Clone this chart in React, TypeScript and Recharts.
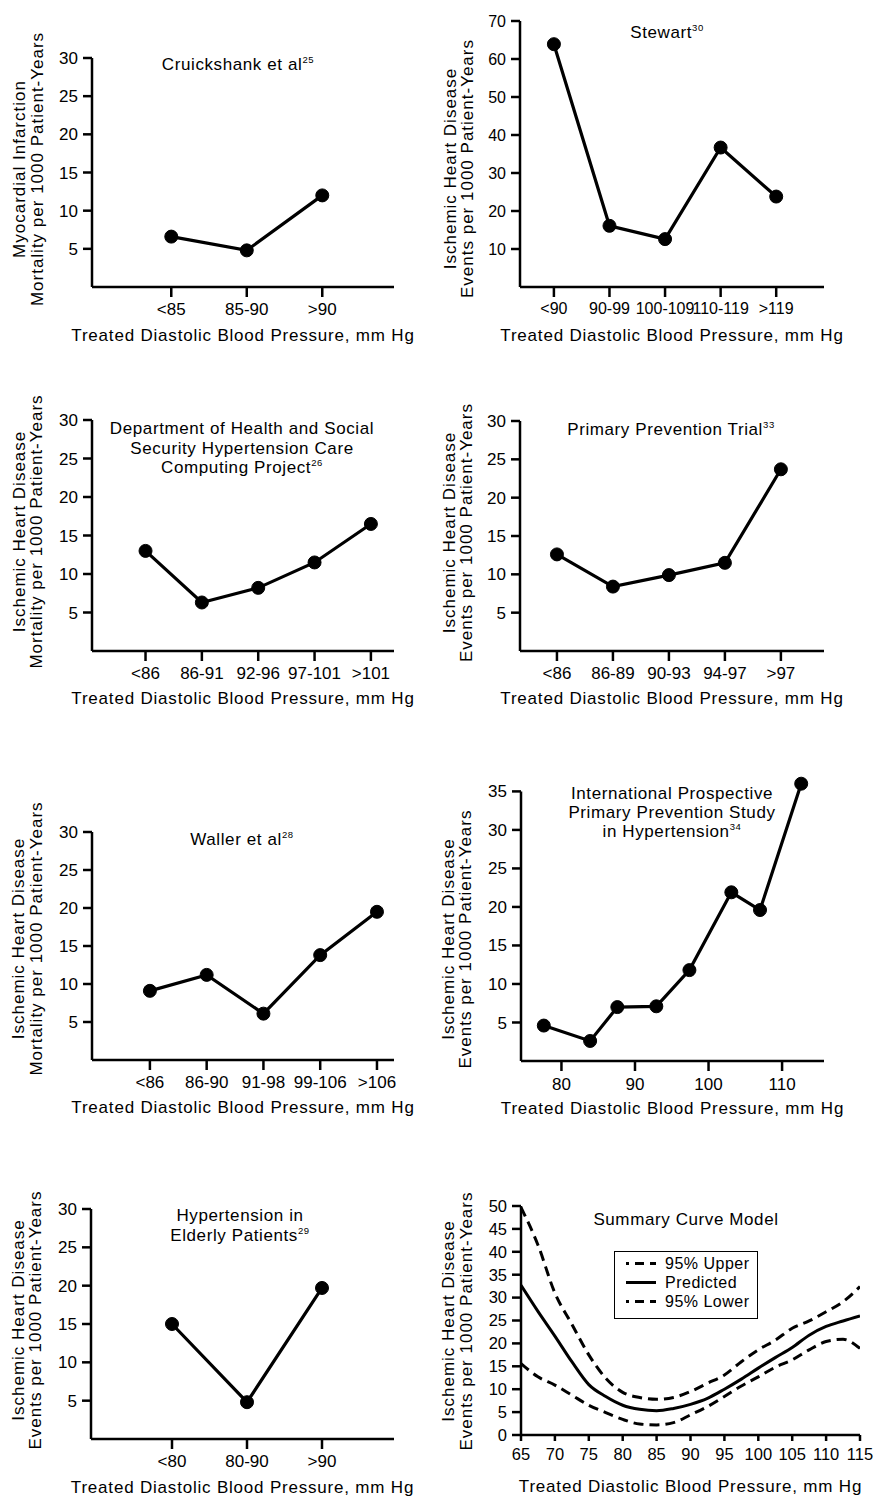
import React from "react";
import { LineChart, Line, XAxis, YAxis, Legend, ReferenceLine } from "recharts";

const FONT = "'Liberation Sans', Arial, Helvetica, sans-serif";

// Cruickshank et al
const cruickCats = ["<85", "85-90", ">90"];
const cruickVals = [6.6, 4.8, 12.0];

// Stewart
const stewartCats = ["<90", "90-99", "100-109", "110-119", ">119"];
const stewartVals = [63.9, 16.1, 12.6, 36.7, 23.8];

// Department of Health and Social Security
const dhssCats = ["<86", "86-91", "92-96", "97-101", ">101"];
const dhssVals = [13.0, 6.3, 8.2, 11.5, 16.5];

// Primary Prevention Trial
const pptCats = ["<86", "86-89", "90-93", "94-97", ">97"];
const pptVals = [12.6, 8.4, 9.9, 11.5, 23.7];

// Waller et al
const wallerCats = ["<86", "86-90", "91-98", "99-106", ">106"];
const wallerVals = [9.1, 11.2, 6.1, 13.8, 19.5];

// International Prospective Primary Prevention Study in Hypertension
const ipX = [77.6, 83.9, 87.6, 92.9, 97.4, 103.1, 107.0, 112.6];
const ipY = [4.6, 2.6, 7.0, 7.1, 11.8, 21.9, 19.6, 36.0];
const ipTicks = [80, 90, 100, 110];

// Hypertension in Elderly Patients
const hepCats = ["<80", "80-90", ">90"];
const hepVals = [15.0, 4.8, 19.7];

// Summary curve model
const sumX = [65, 67.5, 70, 72.5, 75, 77.5, 80, 82.5, 85, 87.5, 90, 92.5, 95, 97.5, 100, 102.5, 105, 107.5, 110, 112.5, 115];
const sumUpper = [49.7, 41.5, 31.0, 24.2, 17.5, 12.4, 9.3, 8.2, 7.8, 8.2, 9.5, 11.3, 13.1, 16.0, 18.6, 20.7, 23.3, 24.9, 26.9, 29.1, 32.4];
const sumPred = [32.7, 27.0, 21.6, 16.0, 11.0, 8.4, 6.5, 5.6, 5.3, 5.8, 6.7, 8.0, 10.0, 12.2, 14.6, 16.9, 19.1, 21.8, 23.7, 24.9, 26.0];
const sumLower = [15.6, 12.7, 10.9, 8.7, 6.5, 4.9, 3.4, 2.4, 2.2, 2.7, 4.4, 6.2, 8.4, 10.7, 12.7, 14.8, 16.4, 18.6, 20.4, 20.9, 18.9];
const sumTicks = [65, 70, 75, 80, 85, 90, 95, 100, 105, 110, 115];
const sumYTicks = [0, 5, 10, 15, 20, 25, 30, 35, 40, 45, 50];
const legendOrder = ["95% Upper", "Predicted", "95% Lower"];
const dashedSeries = ["95% Upper", "95% Lower"];

const xTitle = "Treated Diastolic Blood Pressure, mm Hg";
const yTitleMI = ["Myocardial Infarction", "Mortality per 1000 Patient-Years"];
const yTitleIHDM = ["Ischemic Heart Disease", "Mortality per 1000 Patient-Years"];
const yTitleIHDE = ["Ischemic Heart Disease", "Events per 1000 Patient-Years"];
const ticks30 = [5, 10, 15, 20, 25, 30];

const catData = (vals: number[]) => vals.map((v, i) => ({ x: i + 1, y: v }));
const catTicks = (cats: string[]) => cats.map((_, i) => i + 1);
const catFormat = (cats: string[]) => (v: number) => cats[v - 1] ?? "";

type Box = { l: number; t: number; w: number; h: number };
type Plot = { x0: number; x1: number; y0: number; y1: number };

const Titles = ({ box, title, titleX, titleY, sup, yLines, yXs, yCy }: any) => (
  <g fontFamily={FONT} fill="#000">
    {title.map((ln: string, k: number) => (
      <text key={k} x={titleX - box.l} y={titleY[k] + 6 - box.t} textAnchor="middle" fontSize={17} style={{ letterSpacing: "0.6px" }}>
        {ln}
        {k === title.length - 1 && sup ? (
          <tspan fontSize={9.5} dy={-7}>
            {sup}
          </tspan>
        ) : null}
      </text>
    ))}
    {yLines.map((ln: string, k: number) => (
      <text
        key={"y" + k}
        x={yXs[k] - box.l}
        y={yCy - box.t}
        transform={`rotate(-90 ${yXs[k] - box.l} ${yCy - box.t})`}
        textAnchor="middle"
        dominantBaseline="central"
        fontSize={17}
        style={{ letterSpacing: "1px" }}
      >
        {ln}
      </text>
    ))}
  </g>
);

const XTitle = ({ box, plot, y }: any) => (
  <text
    x={(plot.x0 + plot.x1) / 2 - box.l}
    y={y + 6 - box.t}
    textAnchor="middle"
    fontFamily={FONT}
    fontSize={17}
    fill="#000"
    style={{ letterSpacing: "0.8px" }}
  >
    {xTitle}
  </text>
);

const axisStyle = { stroke: "#000", strokeWidth: 2.5 };

function Panel(props: any) {
  const {
    box,
    plot,
    data,
    xDomain,
    xTicks,
    xFormat,
    yDomain,
    yTicks,
    xTickSize = 10,
    xTickMargin = 6,
    tickFont = 17,
    yLineTop,
    children,
  } = props;
  const b: Box = box;
  const p: Plot = plot;
  const tickStyle = { fill: "#000", fontSize: tickFont, fontFamily: FONT };
  return (
    <div style={{ position: "absolute", left: b.l, top: b.t }}>
      <LineChart
        width={b.w}
        height={b.h}
        data={data}
        margin={{ top: p.y0 - b.t, right: b.l + b.w - p.x1, bottom: 0, left: 0 }}
      >
        <XAxis
          dataKey="x"
          type="number"
          domain={xDomain}
          ticks={xTicks}
          tickFormatter={xFormat}
          interval={0}
          allowDataOverflow
          height={b.t + b.h - p.y1}
          axisLine={axisStyle}
          tickLine={axisStyle}
          tickSize={xTickSize}
          tickMargin={xTickMargin}
          tick={tickStyle}
        />
        <YAxis
          type="number"
          domain={yDomain}
          ticks={yTicks}
          interval={0}
          allowDataOverflow
          width={p.x0 - b.l}
          axisLine={yLineTop === undefined ? axisStyle : false}
          tickLine={axisStyle}
          tickSize={9}
          tickMargin={5}
          tick={tickStyle}
        />
        {yLineTop !== undefined ? (
          <ReferenceLine
            segment={[
              { x: xDomain[0], y: yDomain[0] },
              { x: xDomain[0], y: yLineTop },
            ]}
            stroke="#000"
            strokeWidth={2.5}
          />
        ) : null}
        {children}
        <Titles
          box={b}
          title={props.title}
          titleX={props.titleX}
          titleY={props.titleY}
          sup={props.sup}
          yLines={props.yLines}
          yXs={props.yXs}
          yCy={props.yCy}
        />
        <XTitle box={b} plot={p} y={props.xTitleY} />
      </LineChart>
    </div>
  );
}

const dotLine = (
  <Line
    dataKey="y"
    type="linear"
    stroke="#000"
    strokeWidth={3.2}
    dot={{ r: 6.5, fill: "#000", stroke: "#000", strokeWidth: 1 }}
    isAnimationActive={false}
  />
);

const SummaryLegend = ({ payload }: any) => {
  const items = legendOrder.filter((n) => (payload || []).some((p: any) => p.value === n));
  return (
    <div
      style={{
        boxSizing: "border-box",
        width: 144,
        height: 68,
        border: "1.5px solid #000",
        paddingTop: 2,
        paddingLeft: 11,
        background: "#fff",
        fontFamily: FONT,
        fontSize: 16,
        letterSpacing: "0.5px",
        color: "#000",
      }}
    >
      {items.map((n) => (
        <div key={n} style={{ display: "flex", alignItems: "center", height: 19 }}>
          <svg width={30} height={19}>
            <line
              x1={0}
              x2={30}
              y1={9.5}
              y2={9.5}
              stroke="#000"
              strokeWidth={3}
              strokeDasharray={dashedSeries.includes(n) ? "9 6" : undefined}
              strokeDashoffset={6}
            />
          </svg>
          <span style={{ marginLeft: 9 }}>{n}</span>
        </div>
      ))}
    </div>
  );
};

export default function App() {
  const ipData = ipX.map((x, i) => ({ x, y: ipY[i] }));
  const sumData = sumX.map((x, i) => ({ x, upper: sumUpper[i], pred: sumPred[i], lower: sumLower[i] }));

  return (
    <div style={{ position: "absolute", left: 0, top: 0, width: 880, height: 1496, background: "#fff", overflow: "hidden" }}>
      <Panel
        box={{ l: 0, t: 0, w: 430, h: 350 }}
        plot={{ x0: 92, x1: 394, y0: 58, y1: 287 }}
        data={catData(cruickVals)}
        xDomain={[-0.05, 3.95]}
        xTicks={catTicks(cruickCats)}
        xFormat={catFormat(cruickCats)}
        yDomain={[0, 30]}
        yTicks={ticks30}
        title={["Cruickshank et al"]}
        sup="25"
        titleX={238}
        titleY={[64]}
        yLines={yTitleMI}
        yXs={[19.5, 37]}
        yCy={169}
        xTitleY={335}
      >
        {dotLine}
      </Panel>

      <Panel
        box={{ l: 430, t: 0, w: 450, h: 350 }}
        plot={{ x0: 520, x1: 824, y0: 21, y1: 287 }}
        data={catData(stewartVals)}
        xDomain={[0.39, 5.86]}
        xTicks={catTicks(stewartCats)}
        xFormat={catFormat(stewartCats)}
        yDomain={[0, 70]}
        yTicks={[10, 20, 30, 40, 50, 60, 70]}
        tickFont={16}
        title={["Stewart"]}
        sup="30"
        titleX={667}
        titleY={[32]}
        yLines={yTitleIHDE}
        yXs={[450, 467]}
        yCy={168.5}
        xTitleY={335}
      >
        {dotLine}
      </Panel>

      <Panel
        box={{ l: 0, t: 360, w: 430, h: 360 }}
        plot={{ x0: 92, x1: 394, y0: 420, y1: 651 }}
        data={catData(dhssVals)}
        xDomain={[0.05, 5.41]}
        xTicks={catTicks(dhssCats)}
        xFormat={catFormat(dhssCats)}
        yDomain={[0, 30]}
        yTicks={ticks30}
        title={["Department of Health and Social", "Security Hypertension Care", "Computing Project"]}
        sup="26"
        titleX={242}
        titleY={[428, 447.5, 467]}
        yLines={yTitleIHDM}
        yXs={[19, 36.5]}
        yCy={531.5}
        xTitleY={698}
      >
        {dotLine}
      </Panel>

      <Panel
        box={{ l: 430, t: 360, w: 450, h: 360 }}
        plot={{ x0: 520, x1: 824, y0: 421, y1: 651 }}
        data={catData(pptVals)}
        xDomain={[0.34, 5.77]}
        xTicks={catTicks(pptCats)}
        xFormat={catFormat(pptCats)}
        yDomain={[0, 30]}
        yTicks={ticks30}
        title={["Primary Prevention Trial"]}
        sup="33"
        titleX={671}
        titleY={[428.5]}
        yLines={yTitleIHDE}
        yXs={[449, 466.5]}
        yCy={532.5}
        xTitleY={698}
      >
        {dotLine}
      </Panel>

      <Panel
        box={{ l: 0, t: 740, w: 430, h: 380 }}
        plot={{ x0: 92, x1: 394, y0: 832, y1: 1060 }}
        data={catData(wallerVals)}
        xDomain={[-0.02, 5.3]}
        xTicks={catTicks(wallerCats)}
        xFormat={catFormat(wallerCats)}
        yDomain={[0, 30]}
        yTicks={ticks30}
        title={["Waller et al"]}
        sup="28"
        titleX={242}
        titleY={[838.5]}
        yLines={yTitleIHDM}
        yXs={[18.5, 36]}
        yCy={938.5}
        xTitleY={1107}
      >
        {dotLine}
      </Panel>

      <Panel
        box={{ l: 430, t: 740, w: 450, h: 380 }}
        plot={{ x0: 521, x1: 824, y0: 776, y1: 1061 }}
        data={ipData}
        xDomain={[74.5, 115.7]}
        xTicks={ipTicks}
        yDomain={[0, 37]}
        yTicks={[5, 10, 15, 20, 25, 30, 35]}
        yLineTop={35}
        xTickMargin={7}
        title={["International Prospective", "Primary Prevention Study", "in Hypertension"]}
        sup="34"
        titleX={672}
        titleY={[792.5, 812, 831]}
        yLines={yTitleIHDE}
        yXs={[448.5, 465.5]}
        yCy={939}
        xTitleY={1108}
      >
        {dotLine}
      </Panel>

      <Panel
        box={{ l: 0, t: 1120, w: 430, h: 376 }}
        plot={{ x0: 91, x1: 394, y0: 1209, y1: 1439 }}
        data={catData(hepVals)}
        xDomain={[-0.08, 3.96]}
        xTicks={catTicks(hepCats)}
        xFormat={catFormat(hepCats)}
        yDomain={[0, 30]}
        yTicks={ticks30}
        title={["Hypertension in", "Elderly Patients"]}
        sup="29"
        titleX={240}
        titleY={[1215, 1235]}
        yLines={yTitleIHDE}
        yXs={[18.5, 35.5]}
        yCy={1320}
        xTitleY={1486.5}
      >
        {dotLine}
      </Panel>

      <Panel
        box={{ l: 430, t: 1120, w: 450, h: 376 }}
        plot={{ x0: 521, x1: 860, y0: 1206, y1: 1435 }}
        data={sumData}
        xDomain={[65, 115]}
        xTicks={sumTicks}
        yDomain={[0, 50]}
        yTicks={sumYTicks}
        tickFont={16.5}
        xTickSize={6}
        xTickMargin={7}
        title={["Summary Curve Model"]}
        sup=""
        titleX={686}
        titleY={[1218.5]}
        yLines={yTitleIHDE}
        yXs={[448.5, 466]}
        yCy={1321}
        xTitleY={1486}
      >
        <Line dataKey="upper" name="95% Upper" type="monotone" stroke="#000" strokeWidth={3} strokeDasharray="10 6" dot={false} isAnimationActive={false} />
        <Line dataKey="pred" name="Predicted" type="monotone" stroke="#000" strokeWidth={3} dot={false} isAnimationActive={false} />
        <Line dataKey="lower" name="95% Lower" type="monotone" stroke="#000" strokeWidth={3} strokeDasharray="10 6" dot={false} isAnimationActive={false} />
        <Legend
          layout="horizontal"
          verticalAlign="middle"
          align="center"
          content={(p: any) => <SummaryLegend {...p} />}
          wrapperStyle={{ left: 184, top: 131, width: "auto", height: "auto" }}
        />
      </Panel>
    </div>
  );
}
